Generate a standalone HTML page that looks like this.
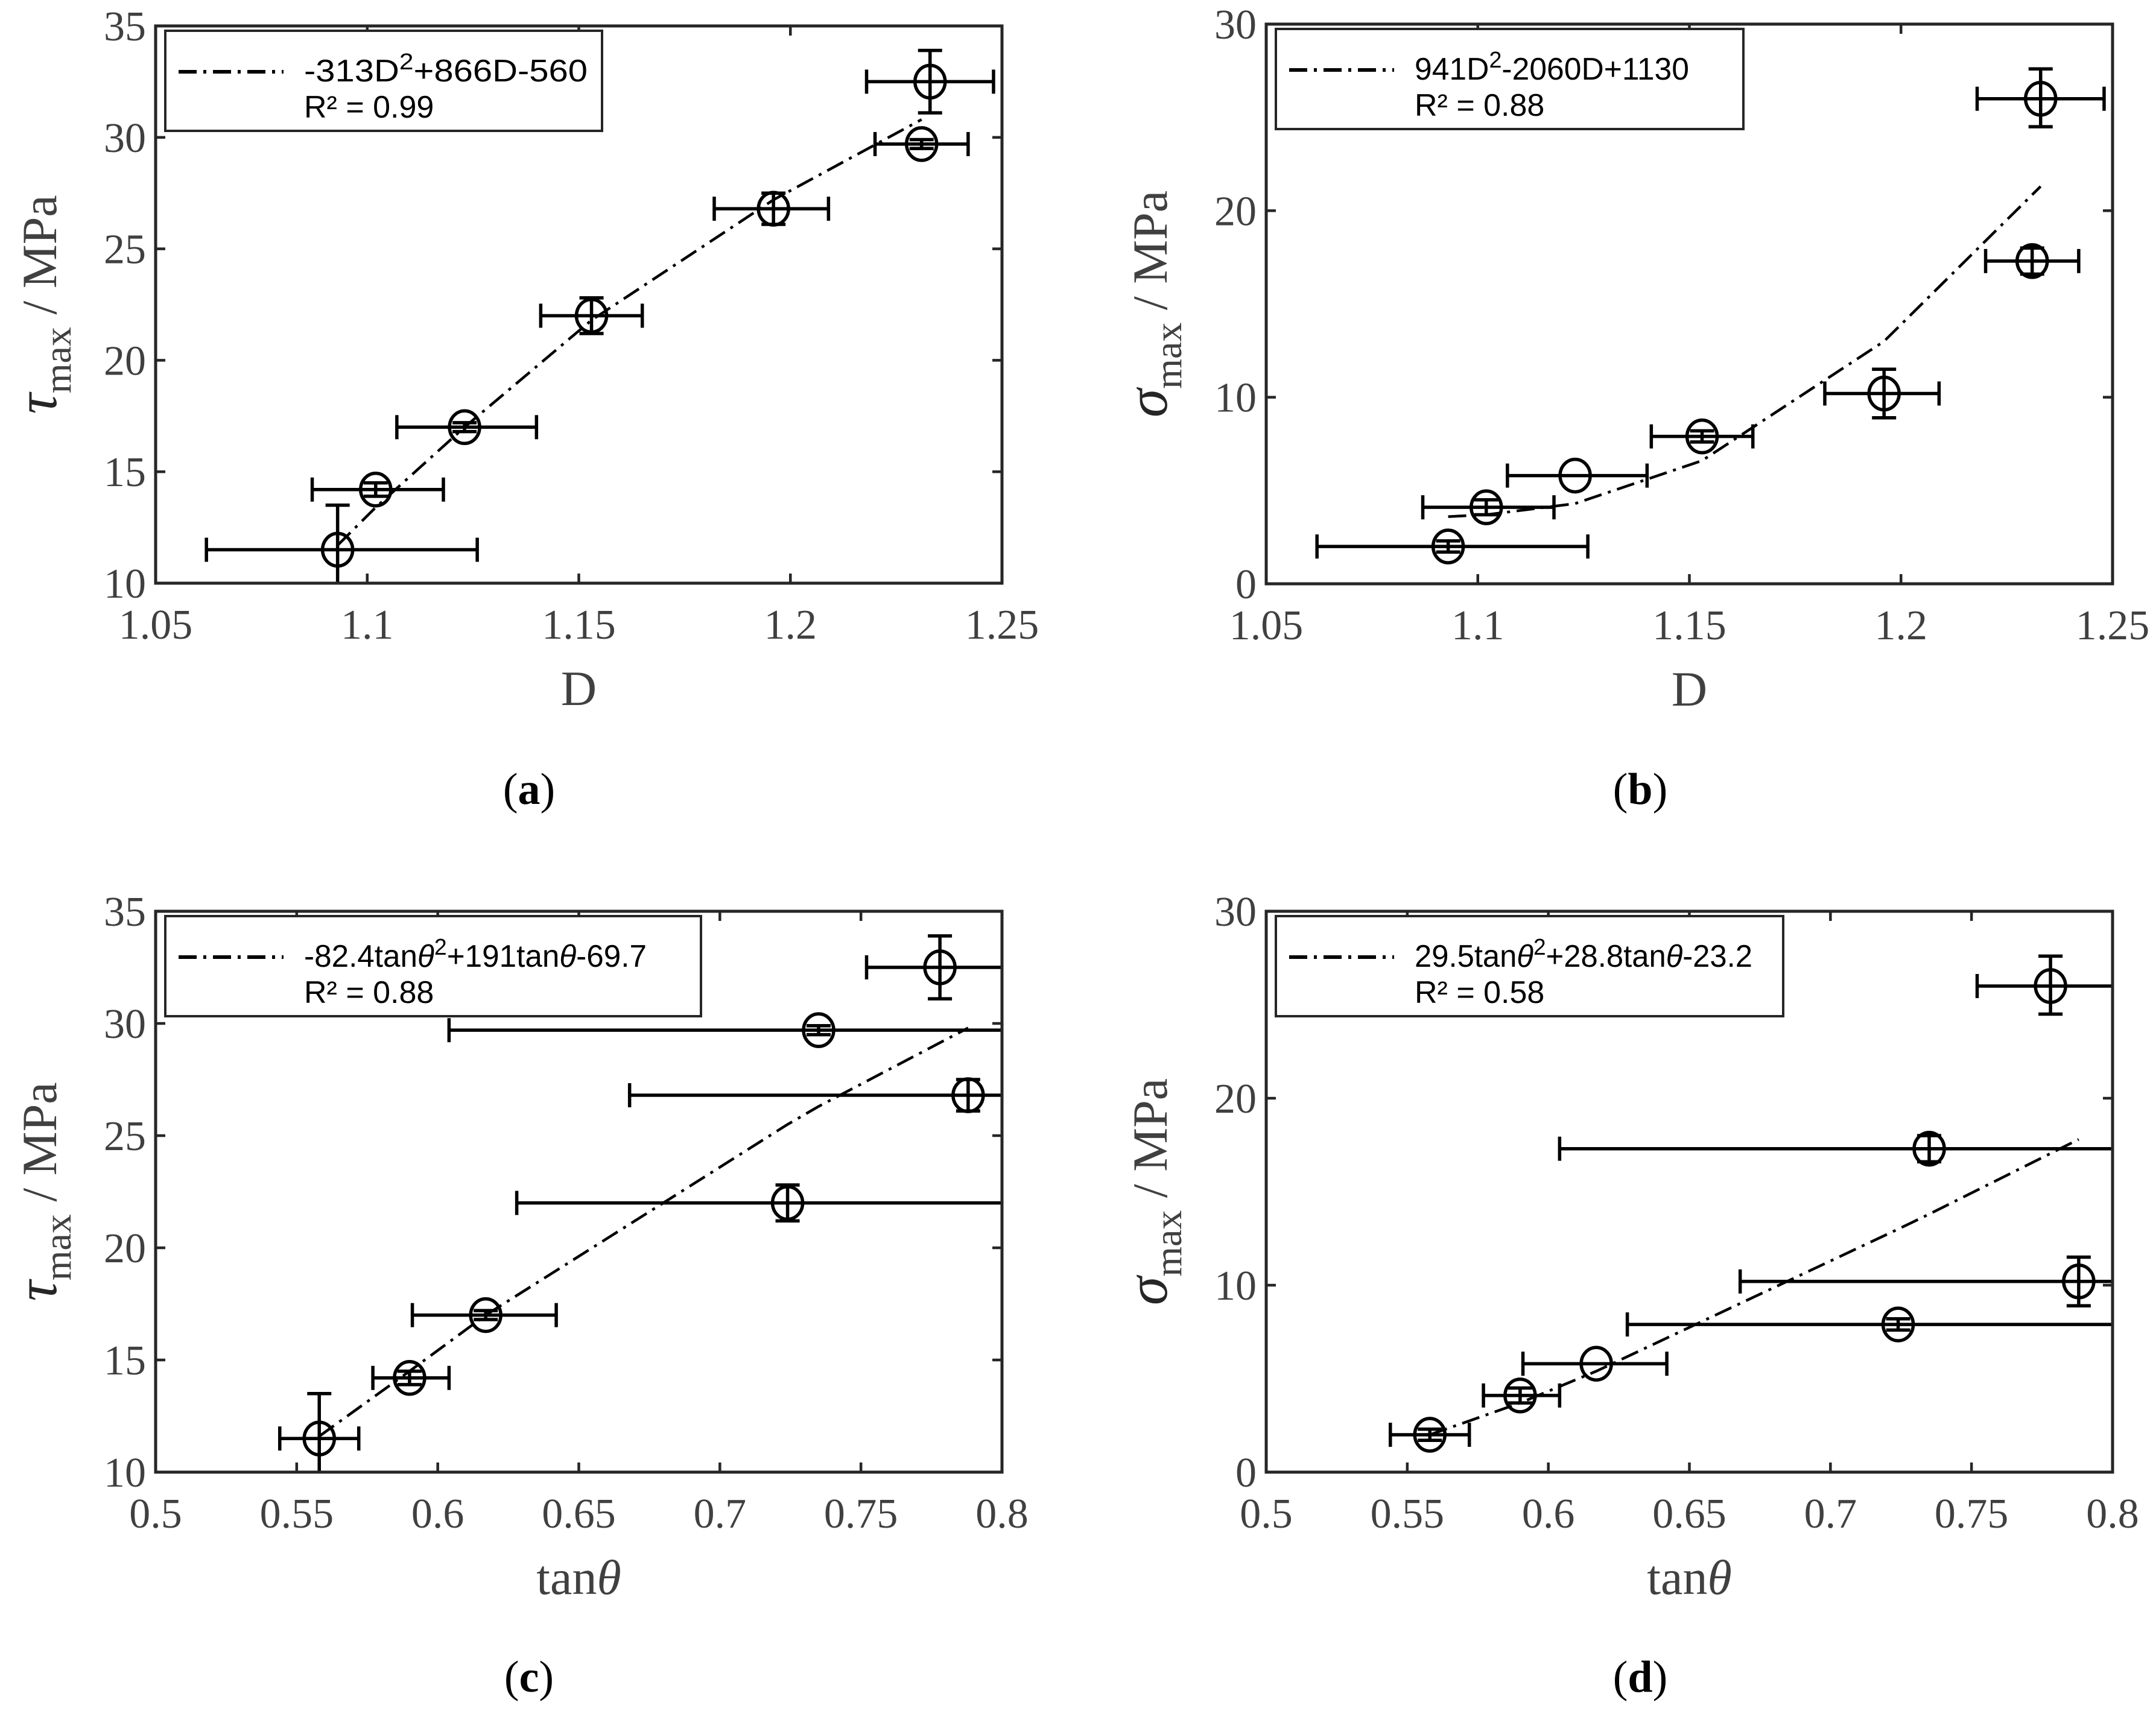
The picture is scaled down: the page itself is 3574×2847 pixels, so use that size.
<!DOCTYPE html>
<html><head><meta charset="utf-8">
<style>
html,body{margin:0;padding:0;background:#fff;}
svg{display:block;}
</style></head>
<body>
<svg id="fig" xmlns="http://www.w3.org/2000/svg" width="3574" height="2847" viewBox="0 0 3574 2847">
<rect width="3574" height="2847" fill="#fff"/>
</svg>
<script>
// ---------- data ----------
const dX = [1.093, 1.102, 1.123, 1.153, 1.196, 1.231, 1.233];
const dXlo = [1.062, 1.087, 1.107, 1.141, 1.182, 1.220, 1.218];
const dXhi = [1.126, 1.118, 1.140, 1.165, 1.209, 1.242, 1.248];
const tX = [0.558, 0.590, 0.617, 0.724, 0.788, 0.735, 0.778];
const tXlo = [0.544, 0.577, 0.591, 0.628, 0.668, 0.604, 0.752];
const tXhi = [0.572, 0.604, 0.642, 0.85, 0.85, 0.85, 0.85];
const tauY = [11.5, 14.2, 17.0, 22.0, 26.8, 29.7, 32.5];
const tauLo = [9.5, 13.9, 16.8, 21.2, 26.1, 29.5, 31.1];
const tauHi = [13.5, 14.5, 17.2, 22.8, 27.5, 29.9, 33.9];
const sigY = [2.0, 4.1, 5.8, 7.9, 10.2, 17.3, 26.0];
const sigLo = [1.7, 3.7, 5.8, 7.6, 8.9, 16.6, 24.5];
const sigHi = [2.3, 4.5, 5.8, 8.2, 11.5, 18.0, 27.6];
const fitAx = [1.093, 1.102, 1.123, 1.153, 1.196, 1.231];
const fitAy = [11.7, 13.4, 17.0, 21.8, 27.2, 30.8];
const fitBx = [1.093, 1.102, 1.123, 1.153, 1.196, 1.233];
const fitBy = [3.6, 3.7, 4.3, 6.6, 13.0, 21.3];
const fitCx = [0.558, 0.590, 0.617, 0.724, 0.735, 0.788];
const fitCy = [11.6, 14.5, 17.0, 25.5, 26.3, 29.8];
const fitDx = [0.558, 0.590, 0.617, 0.724, 0.735, 0.788];
const fitDy = [2.0, 3.7, 5.4, 13.0, 13.8, 17.8];
const dTicks = [1.05, 1.1, 1.15, 1.2, 1.25];
const dTickLabels = ["1.05", "1.1", "1.15", "1.2", "1.25"];
const tTicks = [0.5, 0.55, 0.6, 0.65, 0.7, 0.75, 0.8];
const tTickLabels = ["0.5", "0.55", "0.6", "0.65", "0.7", "0.75", "0.8"];
const tauTicks = [10, 15, 20, 25, 30, 35];
const sigTicks = [0, 10, 20, 30];

const NS = "http://www.w3.org/2000/svg";
const fig = document.getElementById('fig');
function mk(tag, attrs, parent) {
  const e = document.createElementNS(NS, tag);
  for (const k in attrs) e.setAttribute(k, attrs[k]);
  (parent || fig).appendChild(e);
  return e;
}

function panel(cfg) {
  const g = mk('g', {});
  
  
  const L = cfg.L, R = cfg.R, T = cfg.T, B = cfg.B;
  const sx = v => L + (v - cfg.xmin) / (cfg.xmax - cfg.xmin) * (R - L);
  const sy = v => B - (v - cfg.ymin) / (cfg.ymax - cfg.ymin) * (B - T);
  const cp = mk('clipPath', {id: 'clip-' + cfg.id}, g);
  mk('rect', {x: L, y: T, width: R - L, height: B - T}, cp);

  cfg.xticks.forEach((v, i) => {
    const x = sx(v);
    const t1 = mk('line', {x1: x, y1: B, x2: x, y2: B - 16, stroke: '#262626', 'stroke-width': 4.5}, g);
    
    
    mk('line', {x1: x, y1: T, x2: x, y2: T + 16, stroke: '#262626', 'stroke-width': 4.5}, g);
    const tl = mk('text', {x: x, y: B + 92, 'text-anchor': 'middle', 'font-family': 'Liberation Serif, serif', 'font-size': 70, fill: '#404040'}, g);
    tl.textContent = cfg.xlabels[i];
    
    
  });
  cfg.yticks.forEach(v => {
    const y = sy(v);
    const t1 = mk('line', {x1: L, y1: y, x2: L + 16, y2: y, stroke: '#262626', 'stroke-width': 4.5}, g);
    
    
    mk('line', {x1: R, y1: y, x2: R - 16, y2: y, stroke: '#262626', 'stroke-width': 4.5}, g);
    const tl = mk('text', {x: L - 16, y: y + 24, 'text-anchor': 'end', 'font-family': 'Liberation Serif, serif', 'font-size': 70, fill: '#404040'}, g);
    tl.textContent = String(v);
    
    
  });

  const data = mk('g', {'clip-path': 'url(#clip-' + cfg.id + ')'}, g);
  let d = '';
  cfg.fx.forEach((v, i) => { d += (i ? 'L' : 'M') + sx(v).toFixed(1) + ' ' + sy(cfg.fy[i]).toFixed(1); });
  const fl = mk('path', {d: d, fill: 'none', stroke: '#000', 'stroke-width': 4.5, 'stroke-dasharray': '30 11 5 11'}, data);
  
  

  cfg.x.forEach((v, i) => {
    const pg = mk('g', {stroke: '#000', 'stroke-width': 5.5, fill: 'none'}, data);
    
    
    const cx = sx(v), cy = sy(cfg.y[i]);
    const x1 = sx(cfg.xlo[i]), x2 = sx(cfg.xhi[i]);
    const y1 = sy(cfg.ylo[i]), y2 = sy(cfg.yhi[i]);
    mk('line', {x1: x1, y1: cy, x2: x2, y2: cy}, pg);
    mk('line', {x1: x1, y1: cy - 20, x2: x1, y2: cy + 20}, pg);
    mk('line', {x1: x2, y1: cy - 20, x2: x2, y2: cy + 20}, pg);
    if (Math.abs(y1 - y2) > 2) {
      mk('line', {x1: cx, y1: y1, x2: cx, y2: y2}, pg);
      mk('line', {x1: cx - 20, y1: y1, x2: cx + 20, y2: y1}, pg);
      mk('line', {x1: cx - 20, y1: y2, x2: cx + 20, y2: y2}, pg);
    }
    mk('ellipse', {cx: cx, cy: cy, rx: 25, ry: 27}, pg);
  });

  const fr = mk('rect', {x: L, y: T, width: R - L, height: B - T, fill: 'none', stroke: '#262626', 'stroke-width': 5}, g);
  
  

  const lg = mk('g', {}, g);
  
  
  mk('rect', {x: L + 16, y: T + 8, width: cfg.legW, height: 166, fill: '#fff', stroke: '#262626', 'stroke-width': 4}, lg);
  mk('line', {x1: L + 38, y1: T + 76, x2: L + 212, y2: T + 76, stroke: '#000', 'stroke-width': 6, 'stroke-dasharray': '30 11 5 11'}, lg);
  const lt = mk('text', {x: L + 246, y: T + 92, 'font-family': 'Liberation Sans, sans-serif', 'font-size': 52, fill: '#000', textLength: cfg.eqW, lengthAdjust: 'spacingAndGlyphs'}, lg);
  lt.innerHTML = cfg.eq;
  
  
  const rt = mk('text', {x: L + 246, y: T + 152, 'font-family': 'Liberation Sans, sans-serif', 'font-size': 52, fill: '#000'}, lg);
  rt.textContent = cfg.r2;
  
  

  const xt = mk('text', {x: (L + R) / 2, y: B + 202, 'text-anchor': 'middle', 'font-family': 'Liberation Serif, serif', 'font-size': 82, fill: '#404040'}, g);
  xt.innerHTML = cfg.xtitle;
  
  
  const yx = L - 165, yy = (T + B) / 2;
  const yt = mk('text', {x: yx, y: yy, 'text-anchor': 'middle', 'font-family': 'Liberation Serif, serif', 'font-size': 82, fill: '#404040', transform: 'rotate(-90 ' + yx + ' ' + yy + ')'}, g);
  yt.innerHTML = '<tspan font-style="italic" font-size="96" fill="#262626">' + cfg.sym + '</tspan><tspan dy="24" font-size="64">max</tspan><tspan dy="-24"> / MPa</tspan>';
  
  

  const pl = mk('text', {x: cfg.labX, y: cfg.labY, 'text-anchor': 'middle', 'font-family': 'Liberation Serif, serif', 'font-size': 74, fill: '#000'}, g);
  pl.innerHTML = '(<tspan font-weight="bold">' + cfg.id + '</tspan>)';
  
  
}

const tanT = 'tan<tspan font-style="italic">θ</tspan>';
const supT = '<tspan font-style="italic">θ</tspan><tspan dy="-20" font-size="38">2</tspan><tspan dy="20">';
panel({id: 'a', L: 258, R: 1661, T: 43, B: 967, xmin: 1.05, xmax: 1.25, ymin: 10, ymax: 35,
  xticks: dTicks, xlabels: dTickLabels, yticks: tauTicks,
  x: dX, xlo: dXlo, xhi: dXhi, y: tauY, ylo: tauLo, yhi: tauHi, fx: fitAx, fy: fitAy,
  legW: 724, eqW: 470, eq: '-313D<tspan dy="-20" font-size="38">2</tspan><tspan dy="20">+866D-560</tspan>', r2: 'R² = 0.99',
  xtitle: 'D', sym: 'τ', labX: 877, labY: 1333});
panel({id: 'b', L: 2099, R: 3502, T: 40, B: 968, xmin: 1.05, xmax: 1.25, ymin: 0, ymax: 30,
  xticks: dTicks, xlabels: dTickLabels, yticks: sigTicks,
  x: dX, xlo: dXlo, xhi: dXhi, y: sigY, ylo: sigLo, yhi: sigHi, fx: fitBx, fy: fitBy,
  legW: 775, eqW: 455, eq: '941D<tspan dy="-20" font-size="38">2</tspan><tspan dy="20">-2060D+1130</tspan>', r2: 'R² = 0.88',
  xtitle: 'D', sym: 'σ', labX: 2719, labY: 1333});
panel({id: 'c', L: 258, R: 1661, T: 1511, B: 2441, xmin: 0.5, xmax: 0.8, ymin: 10, ymax: 35,
  xticks: tTicks, xlabels: tTickLabels, yticks: tauTicks,
  x: tX, xlo: tXlo, xhi: tXhi, y: tauY, ylo: tauLo, yhi: tauHi, fx: fitCx, fy: fitCy,
  legW: 888, eqW: 568, eq: '-82.4tan' + supT + '+191tan<tspan font-style="italic">θ</tspan>-69.7</tspan>', r2: 'R² = 0.88',
  xtitle: tanT, sym: 'τ', labX: 877, labY: 2805});
panel({id: 'd', L: 2099, R: 3502, T: 1511, B: 2441, xmin: 0.5, xmax: 0.8, ymin: 0, ymax: 30,
  xticks: tTicks, xlabels: tTickLabels, yticks: sigTicks,
  x: tX, xlo: tXlo, xhi: tXhi, y: sigY, ylo: sigLo, yhi: sigHi, fx: fitDx, fy: fitDy,
  legW: 841, eqW: 560, eq: '29.5tan' + supT + '+28.8tan<tspan font-style="italic">θ</tspan>-23.2</tspan>', r2: 'R² = 0.58',
  xtitle: tanT, sym: 'σ', labX: 2719, labY: 2805});
</script>
</body></html>
